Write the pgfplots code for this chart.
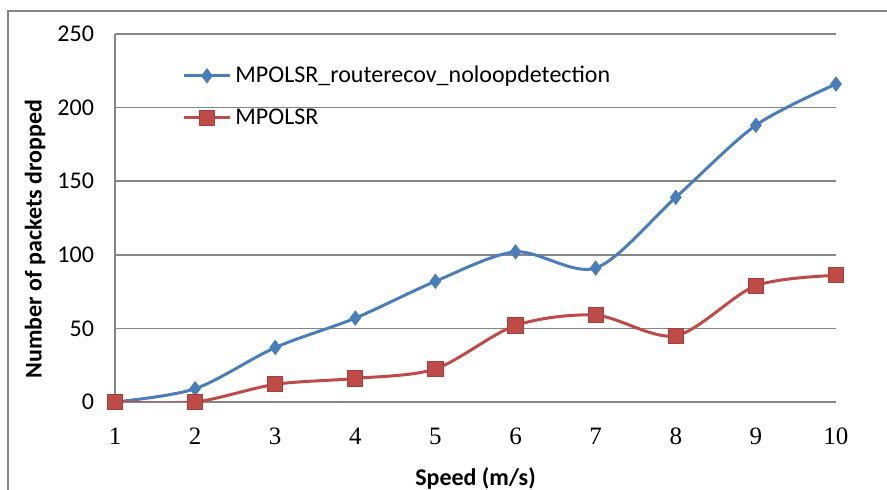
\documentclass[border=0pt]{standalone}
\usepackage{fontspec}
\setmainfont{Carlito}
\newfontfamily\tickserif{Liberation Serif}
\usepackage{pgfplots}
\pgfplotsset{compat=1.18}

\definecolor{xlblue}{RGB}{74,126,187}
\definecolor{xlred}{RGB}{190,75,72}
\definecolor{xlgrid}{RGB}{134,134,134}

\begin{document}
\begin{tikzpicture}
\useasboundingbox (0,0) rectangle (443.5pt,245pt);
% chart frame (Excel style, cut off at right and bottom)
\draw[xlgrid, line width=0.75pt] (4pt,0pt) -- (4pt,239.5pt) -- (443.5pt,239.5pt);
\begin{axis}[
    at={(57.5pt,44pt)}, anchor=south west,
    scale only axis,
    width=360.5pt, height=184pt,
    xmin=1, xmax=10,
    ymin=0, ymax=250,
    xtick={1,...,10},
    ytick={0,50,...,250},
    axis lines*=left,
    axis line style={xlgrid, line width=0.75pt},
    major tick length=0pt,
    ymajorgrids,
    grid style={xlgrid, line width=0.75pt},
    /pgf/number format/assume math mode=true,
    tick label style={font=\fontsize{12}{14}\selectfont},
    xticklabel style={font=\fontsize{12.5}{14}\selectfont\tickserif, yshift=-9.5pt},
    yticklabel style={xshift=-7pt},
    xlabel={\textbf{Speed (m/s)}},
    ylabel={\textbf{Number of packets dropped}},
    label style={font=\fontsize{12}{14}\selectfont},
    xlabel style={at={(axis description cs:0.5,-0.2065)}, anchor=center},
    ylabel style={at={(axis description cs:-0.111,0.443)}, anchor=center},
    legend style={draw=none, fill=none, at={(axis description cs:0.093,0.925)},
        anchor=north west, font=\fontsize{12}{14}\selectfont,
        row sep=7.5pt, inner sep=0pt},
    legend cell align=left,
    legend image code/.code={%
        \draw[mark repeat=2, mark phase=2] plot coordinates {(0pt,0pt) (11.5pt,0pt) (23pt,0pt)};},
]
\addplot[color=xlblue, line width=1.5pt, smooth, mark=diamond*, mark size=3.5pt,
    mark options={fill=xlblue, draw=xlblue, line width=0.5pt}] coordinates {
    (1,0) (2,9) (3,37) (4,57) (5,82) (6,102) (7,91) (8,139) (9,188) (10,216)};
\addlegendentry{MPOLSR\_routerecov\_noloopdetection}
\addplot[color=xlred, line width=1.5pt, smooth, mark=square*, mark size=3.8pt,
    mark options={fill=xlred, draw=xlred!85!black, line width=0.5pt, rounded corners=1pt}] coordinates {
    (1,0) (2,0) (3,12) (4,16) (5,22.5) (6,52) (7,59) (8,45) (9,79) (10,86)};
\addlegendentry{MPOLSR}
\end{axis}
\end{tikzpicture}
\end{document}
